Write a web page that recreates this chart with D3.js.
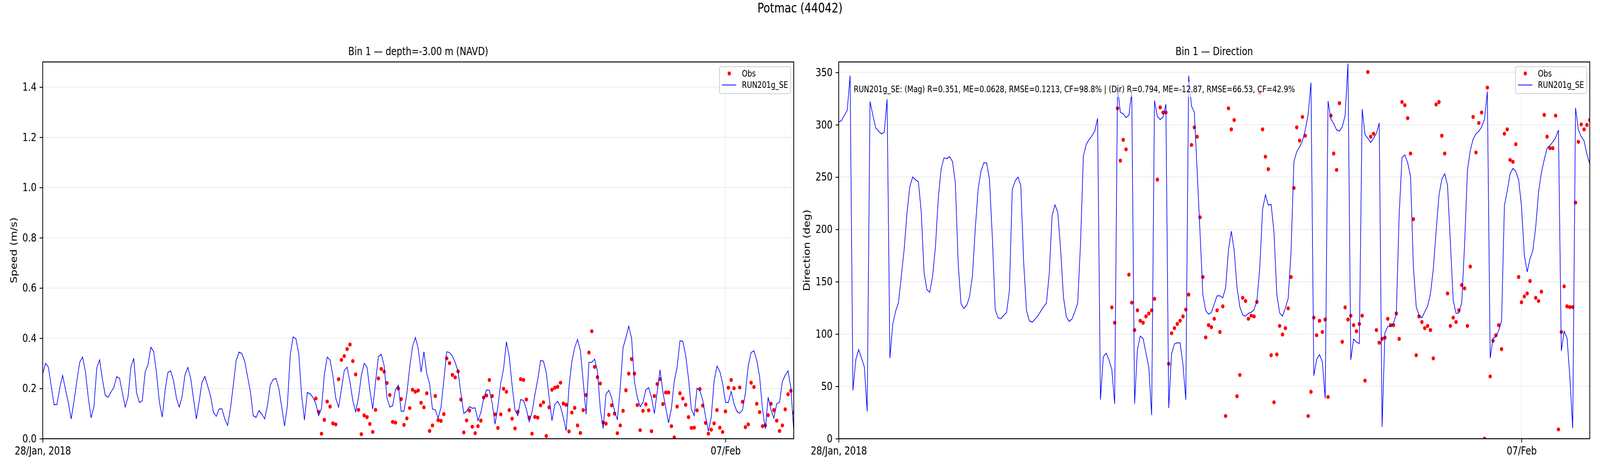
<!DOCTYPE html>
<html>
<head>
<meta charset="utf-8">
<script src="https://cdn.jsdelivr.net/npm/d3@7"></script>
<style>
  html, body { margin: 0; padding: 0; background: #ffffff; overflow: hidden; }
  svg { display: block; width: 100vw; height: 100vh; }
  text { font-family: "DejaVu Sans", sans-serif; fill: #000; }
</style>
</head>
<body>
<svg id="chart" viewBox="0 0 5000 1200" preserveAspectRatio="none"></svg>
<script>
// ---------------- DATA ----------------
const figTitle = "Potmac (44042)";
const speedTitle = "Bin 1 \u2014 depth=-3.00 m (NAVD)";
const dirTitle = "Bin 1 \u2014 Direction";
const speedLabel = "Speed (m/s)";
const dirLabel = "Direction (deg)";
const obsName = "Obs";
const modelName = "RUN201g_SE";
const statsText = "RUN201g_SE: (Mag) R=0.351, ME=0.0628, RMSE=0.1213, CF=98.8% | (Dir) R=0.794, ME=-12.87, RMSE=66.53, CF=42.9%";

// hourly samples starting 28 Jan 2018 00:00 UTC
const seriesStart = "2018-01-28T00:00:00Z";
const obsStartHour = 96;
const xDomain = ["2018-01-28T00:00:00Z", "2018-02-08T00:00:00Z"];
const xTickDates = ["2018-01-28T00:00:00Z", "2018-02-07T00:00:00Z"];
const xTickLabels = ["28/Jan, 2018", "07/Feb"];
const speedTicks = [0.0, 0.2, 0.4, 0.6, 0.8, 1.0, 1.2, 1.4];
const dirTicks = [0, 50, 100, 150, 200, 250, 300, 350];
const speedDomain = [0, 1.5];
const dirDomain = [0, 360];

// model speed (m/s), hourly h0..h264
const modelSpeed = [
0.259,0.300,0.285,0.209,0.135,0.136,0.204,0.252,0.196,0.144,
0.079,0.149,0.230,0.304,0.325,0.268,0.165,0.083,0.128,0.281,
0.314,0.235,0.172,0.165,0.186,0.204,0.247,0.241,0.183,0.126,
0.167,0.286,0.320,0.182,0.144,0.151,0.265,0.295,0.364,0.347,
0.261,0.147,0.086,0.191,0.264,0.270,0.230,0.162,0.126,0.169,
0.253,0.284,0.242,0.160,0.079,0.149,0.225,0.248,0.209,0.170,
0.105,0.089,0.118,0.119,0.079,0.053,0.121,0.214,0.312,0.345,
0.339,0.308,0.248,0.187,0.091,0.085,0.112,0.098,0.079,0.132,
0.214,0.236,0.240,0.200,0.126,0.050,0.132,0.332,0.405,0.398,
0.339,0.175,0.074,0.184,0.179,0.164,0.139,0.092,0.121,0.256,
0.325,0.313,0.251,0.162,0.125,0.196,0.272,0.285,0.225,0.152,
0.107,0.164,0.252,0.300,0.285,0.193,0.118,0.227,0.327,0.336,
0.292,0.164,0.126,0.131,0.195,0.213,0.109,0.110,0.180,0.285,
0.367,0.403,0.358,0.265,0.346,0.259,0.218,0.118,0.115,0.082,
0.125,0.233,0.346,0.343,0.329,0.303,0.268,0.180,0.101,0.109,
0.128,0.121,0.123,0.072,0.104,0.161,0.194,0.193,0.141,0.058,
0.128,0.222,0.279,0.386,0.326,0.212,0.115,0.092,0.156,0.152,
0.118,0.068,0.106,0.175,0.235,0.311,0.309,0.264,0.165,0.072,
0.136,0.149,0.128,0.084,0.032,0.207,0.308,0.363,0.395,0.350,
0.227,0.098,0.304,0.304,0.317,0.268,0.118,0.041,0.178,0.193,
0.162,0.110,0.075,0.201,0.363,0.402,0.448,0.400,0.227,0.165,
0.127,0.145,0.195,0.203,0.164,0.100,0.187,0.274,0.186,0.123,
0.063,0.121,0.230,0.285,0.390,0.388,0.332,0.240,0.118,0.092,
0.201,0.191,0.154,0.087,0.030,0.086,0.230,0.289,0.268,0.220,
0.145,0.144,0.188,0.139,0.109,0.101,0.115,0.182,0.291,0.343,
0.350,0.312,0.247,0.118,0.039,0.165,0.115,0.082,0.139,0.145,
0.228,0.253,0.270,0.201,0.030
];

// observed speed (m/s), hourly h96..h264 (null = missing)
const obsSpeed = [
0.160,0.107,0.020,0.075,
0.148,0.128,0.061,0.057,0.237,0.314,0.329,0.357,0.375,0.309,
0.256,0.115,0.018,0.093,0.086,0.059,0.027,0.115,0.240,0.278,
0.267,0.222,0.174,0.067,0.064,0.200,0.158,0.055,0.081,0.122,
0.195,0.187,0.192,0.143,0.125,0.181,0.031,0.053,0.170,0.074,
0.071,0.098,0.320,0.301,0.254,0.244,0.268,0.156,0.025,0.073,
0.112,0.048,0.022,0.050,0.072,0.164,0.172,0.234,0.170,0.097,
0.043,0.097,0.199,0.187,0.114,0.080,0.041,0.107,0.237,0.234,
0.156,0.084,0.020,0.087,0.084,0.133,0.145,0.011,0.125,0.195,
0.203,0.207,0.223,0.140,0.135,0.029,0.104,0.123,0.053,0.023,
0.114,0.174,0.343,0.428,0.286,0.245,0.220,0.065,0.060,0.095,
0.133,0.100,0.022,0.053,0.111,0.193,0.259,0.317,0.259,0.134,
0.034,0.111,0.137,0.113,0.030,0.170,0.218,0.237,0.138,0.184,
0.184,0.050,0.005,0.128,0.181,0.160,0.135,0.086,0.043,0.044,
0.113,0.198,0.132,0.063,0.020,0.036,0.061,0.114,0.044,0.027,
0.109,0.203,0.234,0.201,null,0.204,0.147,0.046,0.057,0.223,
0.206,0.139,0.106,0.050,0.053,0.094,0.139,0.114,0.072,0.031,
0.053,0.117,0.177,0.191,0.104
];

// model direction (deg), hourly h0..h264
const modelDir = [
302.6,304.0,309.1,313.8,346.9,46.2,75.4,85.2,77.0,68.8,
26.1,322.2,309.1,297.0,294.0,291.2,292.8,324.3,77.0,109.7,
121.8,130.0,155.2,180.8,215.8,241.0,250.1,247.3,245.7,217.0,
158.7,142.3,140.0,155.2,183.2,229.8,257.8,268.3,267.6,269.5,
264.8,244.3,166.8,129.0,124.4,127.6,136.0,155.6,200.7,238.5,
255.5,263.7,263.4,247.8,192.5,123.7,115.5,114.6,117.8,120.6,
141.6,238.0,246.2,250.1,242.0,169.2,122.5,112.7,111.3,114.3,
117.4,121.8,126.0,129.5,157.5,213.0,223.5,216.3,180.8,135.3,
116.7,112.0,114.3,121.3,129.5,186.7,270.0,281.1,285.8,289.3,
294.0,306.1,37.3,78.2,81.7,75.4,66.0,33.4,336.0,311.9,
310.5,306.8,309.1,331.3,33.4,85.2,98.0,95.7,81.7,68.4,
22.6,323.1,308.0,304.9,307.3,319.6,29.2,81.2,90.5,91.7,
91.5,71.2,37.3,346.9,317.8,311.9,255.5,197.2,137.7,122.5,
119.0,120.6,128.8,136.5,136.5,134.6,144.2,180.4,198.3,180.1,
144.7,126.0,118.3,117.1,119.7,120.9,123.2,131.8,163.3,219.3,
233.1,223.3,223.8,197.2,137.7,120.2,117.1,124.8,134.2,178.5,
264.8,274.1,278.8,284.6,295.1,309.6,340.2,60.2,75.8,80.3,
73.5,38.5,322.7,305.6,301.0,295.1,294.0,297.9,308.7,358.6,
75.4,95.2,92.2,91.0,315.0,290.5,287.0,283.0,287.0,291.6,
301.7,11.2,101.0,107.3,107.3,110.4,119.0,213.5,268.6,271.3,
263.6,250.8,164.5,126.0,117.8,115.5,121.3,126.7,138.4,162.2,
198.3,232.6,248.0,253.2,242.2,187.8,132.3,119.7,120.2,130.2,
185.5,256.6,275.3,286.3,291.4,293.7,297.9,305.2,331.8,77.0,
96.1,97.5,103.4,112.5,222.8,236.8,253.2,258.3,255.5,247.3,
222.4,175.5,159.4,172.0,179.9,202.3,235.7,254.3,266.7,277.6,
280.2,283.5,287.7,294.9,84.0,102.7,96.4,59.5,10.0,316.1,
295.1,288.6,284.6,271.8,262.5
];

// observed direction (deg), hourly h96..h264 (null = missing)
const obsDir = [
125.5,110.8,315.7,265.7,
285.6,276.5,156.8,130.0,103.8,122.7,112.7,110.8,116.9,119.7,
122.7,133.7,247.6,316.6,311.7,311.7,71.6,100.8,105.7,109.7,
112.7,116.9,123.4,137.7,280.7,297.5,288.6,211.6,154.5,96.8,
108.5,106.6,114.6,122.7,102.0,126.5,21.7,315.7,295.6,304.5,
40.6,60.9,134.6,131.6,114.6,117.6,116.9,130.7,330.6,295.6,
269.5,257.6,79.8,34.8,80.5,107.8,99.6,105.7,124.6,154.5,
239.6,297.5,284.9,307.5,289.5,21.7,44.8,115.7,98.9,112.7,
102.0,113.9,39.9,308.7,272.5,256.9,320.6,92.6,125.5,113.9,
117.6,108.5,102.7,109.7,117.6,55.5,350.4,288.6,291.4,103.8,
91.7,95.4,96.6,114.6,108.5,108.5,119.7,95.4,321.7,318.7,
306.3,272.5,209.8,79.8,116.9,111.5,105.7,107.8,103.8,76.8,
319.4,321.7,289.5,272.5,138.8,107.8,115.7,111.5,122.7,146.8,
143.7,107.8,164.5,307.5,273.5,301.7,311.7,0.0,335.5,59.5,
93.6,98.9,108.5,85.6,291.4,295.6,266.4,264.6,281.4,154.5,
130.4,136.0,138.8,150.7,null,134.6,131.6,140.5,309.4,288.6,
277.6,277.6,308.7,8.9,102.0,145.6,126.5,125.8,125.8,225.6,
283.7,300.3,295.6,299.8,304.5
];

// ---------------- DRAW ----------------
const svg = d3.select("#chart");
const t0 = new Date(seriesStart);
const toPoints = (arr, startHour) => arr
  .map((v, i) => ({ t: d3.utcHour.offset(t0, startHour + i), v }))
  .filter(d => d.v !== null);

const TOP = 158.5, BOTTOM = 1122.5;
const TICK = 9.7, PAD = 9.7;
const FS_TICK = 27.8, FS_SMALL = 22.2;
const GRID = "#ebebeb";

const panels = [
  { id: "spd", left: 133.5, right: 2480.5, title: speedTitle, ylabel: speedLabel, labelX: 52,
    domain: speedDomain, ticks: speedTicks, fmt: d3.format(".1f"),
    model: toPoints(modelSpeed, 0), obs: toPoints(obsSpeed, obsStartHour), stats: false },
  { id: "dir", left: 2621, right: 4968, title: dirTitle, ylabel: dirLabel, labelX: 2531,
    domain: dirDomain, ticks: dirTicks, fmt: d3.format("d"),
    model: toPoints(modelDir, 0), obs: toPoints(obsDir, obsStartHour), stats: true }
];

svg.append("rect").attr("x", 0).attr("y", 0).attr("width", 5000).attr("height", 1200).attr("fill", "#ffffff");

// figure title
svg.append("text").attr("x", 2500).attr("y", 32).attr("text-anchor", "middle")
  .style("font-size", "33.3px").text(figTitle);

panels.forEach(p => {
  const x = d3.scaleUtc().domain(xDomain.map(s => new Date(s))).range([p.left, p.right]);
  const y = d3.scaleLinear().domain(p.domain).range([BOTTOM, TOP]);
  const g = svg.append("g");

  // clip
  svg.append("clipPath").attr("id", "clip-" + p.id)
    .append("rect").attr("x", p.left).attr("y", TOP)
    .attr("width", p.right - p.left).attr("height", BOTTOM - TOP);

  // grid
  const grid = g.append("g");
  grid.selectAll("line.gy").data(p.ticks).join("line")
    .attr("x1", p.left).attr("x2", p.right)
    .attr("y1", d => y(d)).attr("y2", d => y(d))
    .attr("stroke", GRID).attr("stroke-width", 2);
  grid.selectAll("line.gx").data(xTickDates.map(s => new Date(s))).join("line")
    .attr("x1", d => x(d)).attr("x2", d => x(d))
    .attr("y1", TOP).attr("y2", BOTTOM)
    .attr("stroke", GRID).attr("stroke-width", 2);

  const plot = g.append("g").attr("clip-path", "url(#clip-" + p.id + ")");
  // observations
  plot.selectAll("circle").data(p.obs).join("circle")
    .attr("cx", d => x(d.t)).attr("cy", d => y(d.v)).attr("r", 5.2)
    .attr("fill", "#ff0000");
  // model line
  const line = d3.line().x(d => x(d.t)).y(d => y(d.v));
  plot.append("path").datum(p.model).attr("d", line)
    .attr("fill", "none").attr("stroke", "#0000ff").attr("stroke-width", 2)
    .attr("stroke-linejoin", "miter");

  // axes
  const ya = g.append("g").attr("transform", `translate(${p.left},0)`)
    .call(d3.axisLeft(y).tickValues(p.ticks).tickFormat(p.fmt)
      .tickSize(TICK).tickPadding(PAD).tickSizeOuter(0));
  const xa = g.append("g").attr("transform", `translate(0,${BOTTOM})`)
    .call(d3.axisBottom(x).tickValues(xTickDates.map(s => new Date(s)))
      .tickFormat((d, i) => xTickLabels[i]).tickSize(TICK).tickPadding(PAD).tickSizeOuter(0));
  [ya, xa].forEach(a => {
    a.select(".domain").remove();
    a.selectAll(".tick line").attr("stroke", "#000").attr("stroke-width", 2.2);
    a.selectAll(".tick text").style("font-size", FS_TICK + "px")
      .style("font-family", "DejaVu Sans").attr("fill", "#000");
  });
  xa.selectAll(".tick text").attr("dy", "0.76em");

  // spines
  g.append("rect").attr("x", p.left).attr("y", TOP)
    .attr("width", p.right - p.left).attr("height", BOTTOM - TOP)
    .attr("fill", "none").attr("stroke", "#000").attr("stroke-width", 2.4);

  // titles and labels
  g.append("text").attr("x", (p.left + p.right) / 2).attr("y", 141.5)
    .attr("text-anchor", "middle").style("font-size", "27.8px").text(p.title);
  g.append("text").attr("transform", `translate(${p.labelX},${(TOP + BOTTOM) / 2}) rotate(-90)`)
    .attr("text-anchor", "middle").style("font-size", "27.8px").text(p.ylabel);

  // stats text
  if (p.stats) {
    const sg = g.append("g");
    const bg = sg.append("rect").attr("fill", "#ffffff").attr("fill-opacity", 0.65);
    const st = sg.append("text").attr("x", p.left + 47).attr("y", 236)
      .style("font-size", FS_SMALL + "px").text(statsText);
    const bb = st.node().getBBox();
    const pad = 6.6;
    bg.attr("x", bb.x - pad).attr("y", bb.y - pad)
      .attr("width", bb.width + 2 * pad).attr("height", bb.height + 2 * pad);
  }

  // legend
  const lw = 222, lh = 69;
  const lx = p.right - 10 - lw, ly = TOP + 12;
  const lg = g.append("g");
  lg.append("rect").attr("x", lx).attr("y", ly).attr("width", lw).attr("height", lh)
    .attr("rx", 5).attr("ry", 5)
    .attr("fill", "#ffffff").attr("fill-opacity", 0.8)
    .attr("stroke", "#cccccc").attr("stroke-width", 2.2);
  lg.append("circle").attr("cx", lx + 30.5).attr("cy", ly + 17.5).attr("r", 5.2).attr("fill", "#ff0000");
  lg.append("line").attr("x1", lx + 7.5).attr("x2", lx + 52.5)
    .attr("y1", ly + 47).attr("y2", ly + 47).attr("stroke", "#0000ff").attr("stroke-width", 2);
  lg.append("text").attr("x", lx + 70).attr("y", ly + 17.5).attr("dy", "0.36em")
    .style("font-size", FS_SMALL + "px").text(obsName);
  lg.append("text").attr("x", lx + 70).attr("y", ly + 47).attr("dy", "0.36em")
    .style("font-size", FS_SMALL + "px").text(modelName);
});
</script>
</body>
</html>
